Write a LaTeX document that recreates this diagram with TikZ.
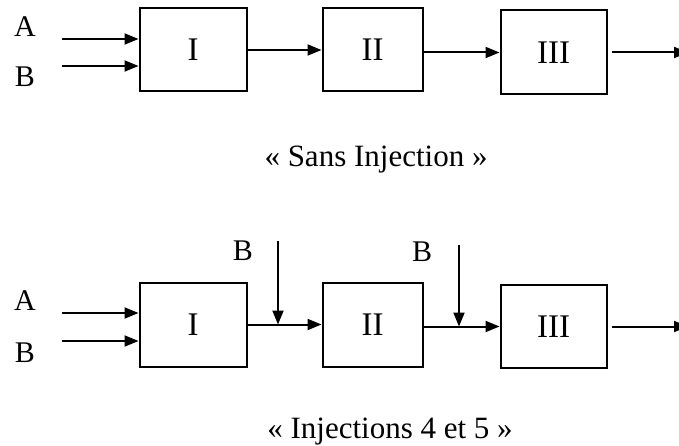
\documentclass[tikz,border=0pt]{standalone}
\usepackage{fontspec}
\setmainfont{Liberation Serif}
\usetikzlibrary{arrows.meta}
\begin{document}
\begin{tikzpicture}[x=1pt,y=-1pt,
  blk/.style={draw,line width=2pt,inner sep=0pt,font=\fontsize{33}{36}\selectfont},
  lbl/.style={inner sep=0pt,font=\fontsize{30}{33}\selectfont},
  captext/.style={inner sep=0pt,font=\fontsize{31}{34}\selectfont},
  flow/.style={line width=2pt,-{Triangle[length=14pt,width=11pt]}}]
\useasboundingbox (0,0) rectangle (679,446);
% top row
\node[blk,minimum width=107pt,minimum height=83pt] (I1) at (193,50) {I};
\node[blk,minimum width=100pt,minimum height=83pt] (II1) at (372.5,50) {II};
\node[blk,minimum width=106pt,minimum height=84pt] (III1) at (553.5,52.5) {III};
\node[lbl] (A1) at (25,27) {A};
\node[lbl] (B1) at (25,77) {B};
\coordinate (a1) at (62,39);
\coordinate (b1) at (62,66);
\coordinate (o1) at (688,52.5);
\draw[flow] (a1) -- (a1 -| I1.west);
\draw[flow] (b1) -- (b1 -| I1.west);
\draw[flow] (I1.east) -- (II1.west);
\draw[flow] (III1.west -| II1.east) -- (III1.west);
\draw[flow] ([xshift=4pt]III1.east) -- (o1);
\node[captext] (C1) at (376,160) {« Sans Injection »};
% bottom row
\node[blk,minimum width=107pt,minimum height=84pt] (I2) at (193,324.5) {I};
\node[blk,minimum width=100pt,minimum height=84pt] (II2) at (372.5,324.5) {II};
\node[blk,minimum width=106pt,minimum height=83pt] (III2) at (553.5,326.5) {III};
\node[lbl] (A2) at (25,300.5) {A};
\node[lbl] (B2) at (25,352.5) {B};
\node[lbl] (B3) at (243,251) {B};
\node[lbl] (B4) at (422,252) {B};
\coordinate (a2) at (62,313);
\coordinate (b2) at (62,341);
\coordinate (o2) at (688,326.5);
\coordinate (j1) at (278,241);
\coordinate (j2) at (459,245);
\draw[flow] (a2) -- (a2 -| I2.west);
\draw[flow] (b2) -- (b2 -| I2.west);
\draw[flow] (I2.east) -- (II2.west);
\draw[flow] (III2.west -| II2.east) -- (III2.west);
\draw[flow] ([xshift=4pt]III2.east) -- (o2);
\draw[flow] (j1) -- (j1 |- I2.east);
\draw[flow] (j2) -- (j2 |- III2.west);
\node[captext] (C2) at (390,432) {« Injections 4 et 5 »};
\end{tikzpicture}
\end{document}
